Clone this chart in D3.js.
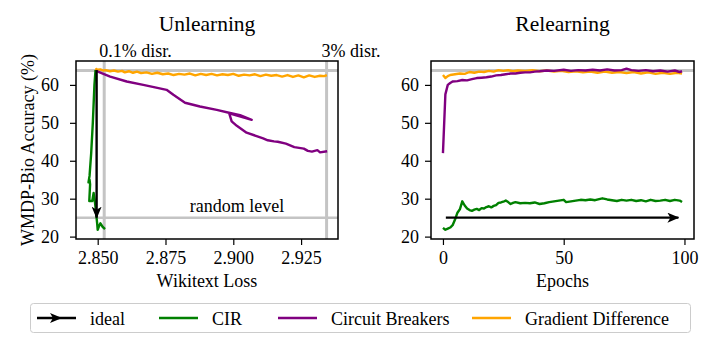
<!DOCTYPE html>
<html>
<head>
<meta charset="utf-8">
<script src="https://cdn.jsdelivr.net/npm/d3@7"></script>
<style>
  html, body { margin: 0; padding: 0; background: #fff; }
  svg { display: block; font-family: "Liberation Serif", "Times New Roman", serif; }
</style>
</head>
<body>
<svg id="chart" width="718" height="339"></svg>
<script>
// ---------------- DATA ----------------
const seriesNames = ["ideal", "CIR", "Circuit Breakers", "Gradient Difference"];
const seriesColors = ["#000000", "#008000", "#800080", "#FFA500"];

// Unlearning panel: [wikitext loss, accuracy]
const unlearnGD = [[2.8492,63.6],[2.8495,64.2],[2.8500,64.0],[2.8510,64.1],[2.8520,63.8],[2.8530,63.9],[2.8545,63.6],[2.8560,63.8],[2.8575,63.5],[2.8590,63.7],[2.8600,63.3],[2.8615,63.6],[2.8630,63.2],[2.8645,63.5],[2.8660,63.1],[2.8680,63.3],[2.8700,62.9],[2.8720,63.2],[2.8740,62.8],[2.8760,63.0],[2.8780,62.6],[2.8800,62.9],[2.8820,62.7],[2.8840,63.0],[2.8860,62.5],[2.8880,62.9],[2.8900,62.6],[2.8920,62.9],[2.8940,62.5],[2.8960,62.8],[2.8980,62.6],[2.9000,62.9],[2.9020,62.4],[2.9040,62.7],[2.9060,62.5],[2.9080,62.8],[2.9100,62.3],[2.9120,62.7],[2.9140,62.4],[2.9160,62.6],[2.9180,62.2],[2.9200,62.6],[2.9220,62.1],[2.9240,62.5],[2.9260,62.0],[2.9280,62.5],[2.9300,62.1],[2.9320,62.4],[2.9335,62.3],[2.9345,62.6]];
const unlearnCB = [[2.8494,63.7],[2.8546,62.2],[2.8607,60.9],[2.8668,60.0],[2.8720,59.2],[2.8754,58.7],[2.8779,57.4],[2.8822,55.3],[2.8877,54.3],[2.8939,53.4],[2.8988,52.6],[2.9025,52.0],[2.9068,50.8],[2.9030,51.6],[2.8985,52.5],[2.8994,50.4],[2.9013,49.2],[2.9049,47.4],[2.9086,46.5],[2.9110,45.9],[2.9127,45.4],[2.9150,45.1],[2.9164,45.0],[2.9194,44.5],[2.9225,43.6],[2.9260,43.2],[2.9275,42.6],[2.9290,42.4],[2.9310,42.8],[2.9320,42.2],[2.9346,42.5]];
const unlearnCIR = [[2.8492,63.9],[2.8488,60.0],[2.8482,50.0],[2.8476,42.0],[2.8470,36.0],[2.8466,34.3],[2.8470,35.0],[2.8472,33.8],[2.8469,29.4],[2.8480,29.4],[2.8485,31.5],[2.8490,29.0],[2.8493,27.0],[2.8498,23.5],[2.8500,21.8],[2.8505,22.8],[2.8510,23.5],[2.8518,22.6],[2.8527,22.0]];
const unlearnIdeal = [[2.8496,63.9],[2.8496,25.0]];

// Relearning panel: [epoch, accuracy]
const relearnGD = [[0,62.6],[1,61.8],[2,62.3],[3,62.6],[5,62.8],[7,63.0],[9,62.9],[11,63.4],[13,63.2],[15,63.5],[17,63.4],[19,63.7],[21,63.5],[23,63.9],[25,63.7],[27,63.9],[29,63.6],[31,63.8],[34,63.7],[37,63.9],[40,63.6],[43,63.8],[46,63.5],[49,63.7],[52,63.4],[55,63.6],[58,63.3],[61,63.5],[64,63.2],[67,63.5],[70,63.2],[73,63.4],[76,63.1],[79,63.4],[82,63.0],[85,63.3],[88,62.9],[91,63.2],[94,62.9],[97,63.2],[99,63.0]];
const relearnCB = [[0,42.0],[1,57.5],[2,60.0],[3,60.5],[4,60.9],[6,61.0],[8,61.3],[10,61.2],[12,61.5],[14,61.8],[16,61.9],[18,62.0],[20,62.2],[22,62.5],[24,62.6],[26,62.8],[28,63.0],[30,63.0],[32,63.2],[34,63.3],[36,63.3],[38,63.5],[40,63.6],[43,63.8],[46,63.7],[50,64.0],[53,63.7],[56,63.9],[59,63.8],[62,64.0],[65,63.8],[68,64.1],[71,63.8],[74,63.9],[76,64.3],[78,63.9],[81,63.7],[84,63.9],[87,63.6],[90,63.8],[93,63.5],[96,63.8],[98,63.4],[99,63.6]];
const relearnCIR = [[0,22.3],[1,21.8],[2,22.1],[3,22.4],[4,23.0],[5,24.5],[6,26.3],[7,27.2],[8,29.3],[9,28.2],[10,27.4],[11,27.0],[12,26.8],[13,27.1],[14,27.3],[15,27.0],[16,27.5],[17,27.4],[18,27.8],[19,28.0],[20,27.7],[21,28.1],[22,28.3],[23,28.9],[24,29.0],[25,29.2],[26,29.5],[27,29.1],[28,28.6],[29,28.9],[30,29.1],[32,28.8],[34,28.9],[36,28.8],[38,29.0],[40,28.6],[42,28.8],[44,29.1],[46,29.3],[48,29.5],[50,29.7],[51,29.1],[53,29.3],[55,29.5],[57,29.7],[59,29.6],[61,29.8],[63,29.6],[66,30.1],[68,29.8],[70,29.6],[72,29.4],[74,29.7],[76,29.5],[78,29.7],[80,29.4],[82,29.6],[84,29.3],[86,29.7],[88,29.4],[90,29.5],[92,29.7],[94,29.4],[96,29.7],[98,29.5],[99,29.1]];
const relearnIdeal = [[1.2,25.0],[97.5,25.0]];

// reference lines
const originalAcc = 63.8;
const randomLevel = 25;
const disruptionLoss = [2.8524, 2.9344];
const disruptionLabels = ["0.1% disr.", "3% disr."];

// axes ticks
const yTicks = [20, 30, 40, 50, 60];
const xTicksLeft = [2.850, 2.875, 2.900, 2.925];
const xTicksRight = [0, 50, 100];

// ---------------- DRAW ----------------
const svg = d3.select("#chart");
const FONT_TICK = 18, FONT_LABEL = 18, FONT_TITLE = 21.5;
const plotTop = 61, plotBottom = 239;

const y = d3.scaleLinear().domain([19.37, 66.3]).range([plotBottom, plotTop]);
const xL = d3.scaleLinear().domain([2.8420, 2.93861]).range([76, 338]);
const xR = d3.scaleLinear().domain([-4.95, 103.95]).range([431, 694]);

const defs = svg.append("defs");
defs.append("marker")
  .attr("id", "arrowhead")
  .attr("markerUnits", "userSpaceOnUse")
  .attr("viewBox", "0 0 12 10")
  .attr("refX", 11).attr("refY", 5)
  .attr("markerWidth", 12).attr("markerHeight", 10)
  .attr("orient", "auto")
  .append("path")
  .attr("d", "M0,0 L12,5 L0,10 L3,5 Z")
  .attr("fill", "#000");

function panel(x, xTicks, fmt, title, xlabel, yPad, data) {
  const [x0, x1] = x.range();
  const g = svg.append("g");
  const clipId = "clip" + Math.round(x0);
  defs.append("clipPath").attr("id", clipId).append("rect")
    .attr("x", x0).attr("y", plotTop).attr("width", x1 - x0).attr("height", plotBottom - plotTop);

  const plot = g.append("g").attr("clip-path", `url(#${clipId})`);

  plot.append("line")
    .attr("x1", x0).attr("x2", x1)
    .attr("y1", y(originalAcc)).attr("y2", y(originalAcc))
    .attr("stroke", "#c4c4c4").attr("stroke-width", 3);
  if (data.random) {
    plot.append("line")
      .attr("x1", x0).attr("x2", x1)
      .attr("y1", y(randomLevel)).attr("y2", y(randomLevel))
      .attr("stroke", "#c4c4c4").attr("stroke-width", 2.5);
    disruptionLoss.forEach(v => {
      plot.append("line")
        .attr("x1", x(v)).attr("x2", x(v))
        .attr("y1", plotTop).attr("y2", plotBottom)
        .attr("stroke", "#c4c4c4").attr("stroke-width", 3);
    });
  }

  const line = d3.line().x(d => x(d[0])).y(d => y(d[1]));
  data.series.forEach(s => {
    plot.append("path")
      .datum(s.values)
      .attr("d", line)
      .attr("fill", "none")
      .attr("stroke", s.color)
      .attr("stroke-width", 2.4)
      .attr("stroke-linejoin", "round");
  });
  g.append("path")
    .datum(data.ideal)
    .attr("d", line)
    .attr("fill", "none")
    .attr("stroke", "#000")
    .attr("stroke-width", 2.4)
    .attr("marker-end", "url(#arrowhead)");

  const xAxis = d3.axisBottom(x).tickValues(xTicks).tickFormat(fmt).tickSize(6).tickPadding(6);
  const gx = g.append("g").attr("transform", `translate(0,${plotBottom})`).call(xAxis);
  const yAxis = d3.axisLeft(y).tickValues(yTicks).tickSize(6).tickPadding(yPad);
  const gy = g.append("g").attr("transform", `translate(${x0},0)`).call(yAxis);
  [gx, gy].forEach(a => {
    a.attr("font-family", null);
    a.select(".domain").remove();
    a.selectAll(".tick line").attr("stroke", "#000").attr("stroke-width", 1.2);
    a.selectAll(".tick text").attr("fill", "#000")
      .style("font-family", '"Liberation Serif", "Times New Roman", serif')
      .style("font-size", FONT_TICK + "px");
  });

  g.append("rect")
    .attr("x", x0).attr("y", plotTop).attr("width", x1 - x0).attr("height", plotBottom - plotTop)
    .attr("fill", "none").attr("stroke", "#000").attr("stroke-width", 1.5);

  g.append("text").attr("x", (x0 + x1) / 2).attr("y", 31)
    .attr("text-anchor", "middle").style("font-size", FONT_TITLE + "px").text(title);
  g.append("text").attr("x", (x0 + x1) / 2).attr("y", 287)
    .attr("text-anchor", "middle").style("font-size", FONT_LABEL + "px").text(xlabel);

  if (data.random) {
    g.append("text").attr("x", 237).attr("y", 212)
      .attr("text-anchor", "middle").style("font-size", FONT_LABEL + "px").text("random level");
    disruptionLoss.forEach((v, i) => {
      g.append("text").attr("x", x(v) - 5).attr("y", 57)
        .style("font-size", FONT_LABEL + "px").text(disruptionLabels[i]);
    });
  }
}

panel(xL, xTicksLeft, d3.format(".3f"), "Unlearning", "Wikitext Loss", 11, {
  random: true,
  series: [
    { values: unlearnGD, color: seriesColors[3] },
    { values: unlearnCB, color: seriesColors[2] },
    { values: unlearnCIR, color: seriesColors[1] }
  ],
  ideal: unlearnIdeal
});
panel(xR, xTicksRight, d3.format("d"), "Relearning", "Epochs", 6, {
  random: false,
  series: [
    { values: relearnGD, color: seriesColors[3] },
    { values: relearnCB, color: seriesColors[2] },
    { values: relearnCIR, color: seriesColors[1] }
  ],
  ideal: relearnIdeal
});

svg.append("text")
  .attr("transform", `translate(34,${(plotTop + plotBottom) / 2}) rotate(-90)`)
  .attr("text-anchor", "middle")
  .style("font-size", FONT_LABEL + "px")
  .text("WMDP-Bio Accuracy (%)");

const leg = svg.append("g");
leg.append("rect")
  .attr("x", 30.5).attr("y", 303.5).attr("width", 660).attr("height", 29)
  .attr("rx", 3).attr("fill", "#fff").attr("stroke", "#cccccc").attr("stroke-width", 1);
const legX = [37, 159, 278, 472];
seriesNames.forEach((name, i) => {
  const lx = legX[i];
  leg.append("line")
    .attr("x1", lx).attr("x2", lx + 39).attr("y1", 318).attr("y2", 318)
    .attr("stroke", seriesColors[i]).attr("stroke-width", 2.4);
  if (i === 0) {
    leg.append("path")
      .attr("d", `M${lx + 13},${313} L${lx + 25},${318} L${lx + 13},${323} L${lx + 16},${318} Z`)
      .attr("fill", "#000");
  }
  leg.append("text")
    .attr("x", lx + 53).attr("y", 324.5)
    .style("font-size", FONT_LABEL + "px")
    .text(name);
});
</script>
</body>
</html>
